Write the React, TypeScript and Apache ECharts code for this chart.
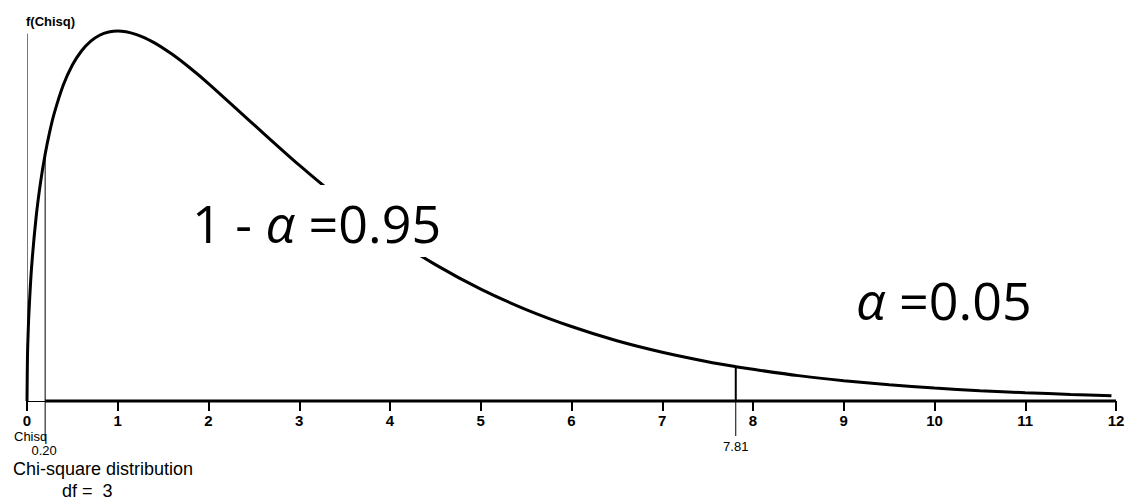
import React, { useEffect, useRef } from "react";
import * as echarts from "echarts";

// Chi-square (df = 3) density
const chiX = [0, 0.005, 0.01, 0.02, 0.05, 0.1, 0.15, 0.2, 0.25, 0.3, 0.4, 0.5, 0.6, 0.7, 0.8, 0.9, 1.0, 1.2, 1.4, 1.6, 1.8, 2.0, 2.5, 3.0, 3.5, 4.0, 4.5, 5.0, 5.5, 6.0, 6.5, 7.0, 7.5, 7.81, 8.0, 8.5, 9.0, 9.5, 10, 10.5, 11, 11.5, 11.95];
const density = [0, 0.0281, 0.0397, 0.0559, 0.087, 0.12, 0.1433, 0.1614, 0.176, 0.1881, 0.2066, 0.2197, 0.2289, 0.2352, 0.2392, 0.2413, 0.242, 0.2398, 0.2344, 0.2267, 0.2176, 0.2076, 0.1807, 0.1542, 0.1297, 0.108, 0.0892, 0.0732, 0.0598, 0.0487, 0.0394, 0.0319, 0.0257, 0.02245, 0.0207, 0.0166, 0.0133, 0.0106, 0.0085, 0.00678, 0.00541, 0.00431, 0.0035];
const xMin = 0;
const xMax = 12;
const xInterval = 1;
const lowerCut = 0.2;
const lowerCutDensity = 0.1614;
const lowerCutLabel = "0.20";
const critical = 7.81;
const criticalDensity = 0.02245;
const criticalLabel = "7.81";
const axisName = "f(Chisq)";
const xName = "Chisq";
const titleLines = ["Chi-square distribution", "df =  3"];
const confidenceLabel = ["1 - ", "\u03b1", " =0.95"];
const alphaLabel = ["\u03b1", " =0.05"];

export default function App() {
  const ref = useRef<HTMLDivElement>(null);
  useEffect(() => {
    if (!ref.current) return;
    const chart = echarts.init(ref.current, undefined, { renderer: "svg" });
    const curve = chiX.map((x, i) => [x, density[i]]);
    chart.setOption({
      animation: false,
      backgroundColor: "#ffffff",
      grid: { left: 27, right: 18, top: 34, bottom: 101, outerBoundsMode: "none" },
      xAxis: {
        type: "value",
        min: xMin,
        max: xMax,
        interval: xInterval,
        splitLine: { show: false },
        axisLine: { show: true, lineStyle: { color: "#000", width: 1 } },
        axisTick: { show: true, length: 10, lineStyle: { color: "#000", width: 2 } },
        axisLabel: {
          margin: 12,
          color: "#000",
          fontSize: 15,
          fontWeight: "bold",
          fontFamily: "Liberation Sans, Arial, sans-serif",
        },
      },
      yAxis: {
        type: "value",
        min: 0,
        max: 0.24,
        name: axisName,
        nameLocation: "end",
        nameGap: 6,
        nameTextStyle: {
          align: "left",
          color: "#000",
          fontSize: 13,
          fontWeight: "bold",
          fontFamily: "Liberation Sans, Arial, sans-serif",
          padding: [0, 0, 0, -1],
        },
        splitLine: { show: false },
        axisTick: { show: false },
        axisLabel: { show: false },
        axisLine: { show: true, lineStyle: { color: "#777", width: 1 } },
      },
      series: [
        {
          type: "line",
          data: curve,
          showSymbol: false,
          smooth: 0.3,
          clip: false,
          lineStyle: { color: "#000", width: 3 },
          z: 2,
        },
        {
          type: "line",
          data: [[lowerCut, 0], [xMax, 0]],
          showSymbol: false,
          clip: false,
          lineStyle: { color: "#000", width: 3 },
          z: 3,
        },
        {
          type: "line",
          data: [[lowerCut, 0], [lowerCut, lowerCutDensity]],
          showSymbol: false,
          clip: false,
          lineStyle: { color: "#000", width: 1 },
          z: 3,
        },
        {
          type: "line",
          data: [[critical, 0], [critical, criticalDensity]],
          showSymbol: false,
          clip: false,
          lineStyle: { color: "#000", width: 2 },
          z: 3,
        },
      ],
    });

    const p1 = chart.convertToPixel({ xAxisIndex: 0, yAxisIndex: 0 }, [lowerCut, 0]) as number[];
    const p2 = chart.convertToPixel({ xAxisIndex: 0, yAxisIndex: 0 }, [critical, 0]) as number[];
    const font = "Liberation Sans, Arial, sans-serif";
    const bigFont = "Open Sans, Lato, sans-serif";
    chart.setOption({
      graphic: [
        { type: "line", shape: { x1: p1[0], y1: p1[1], x2: p1[0], y2: p1[1] + 40 }, style: { stroke: "#000", lineWidth: 1 }, z: 10 },
        { type: "line", shape: { x1: p2[0], y1: p2[1], x2: p2[0], y2: p2[1] + 35 }, style: { stroke: "#000", lineWidth: 1 }, z: 10 },
        { type: "text", x: p1[0] - 1, y: p1[1] + 49, style: { text: lowerCutLabel, font: `13px ${font}`, fill: "#000", align: "center", verticalAlign: "middle" }, z: 10 },
        { type: "text", x: p2[0], y: p2[1] + 45, style: { text: criticalLabel, font: `13px ${font}`, fill: "#000", align: "center", verticalAlign: "middle" }, z: 10 },
        { type: "text", x: 14, y: 436, style: { text: xName, font: `13px ${font}`, fill: "#000", align: "left", verticalAlign: "middle" }, z: 10 },
        { type: "text", x: 13, y: 469, style: { text: titleLines[0], font: `18px ${font}`, fill: "#000", align: "left", verticalAlign: "middle" }, z: 10 },
        { type: "text", x: 62, y: 491, style: { text: titleLines[1], font: `18px ${font}`, fill: "#000", align: "left", verticalAlign: "middle" }, z: 10 },
        { type: "rect", shape: { x: 186, y: 185, width: 262, height: 72 }, style: { fill: "#fff" }, z: 20 },
        {
          type: "text",
          x: 192,
          y: 222,
          z: 21,
          style: {
            text: `{n|${confidenceLabel[0]}}{i|${confidenceLabel[1]}}{n|${confidenceLabel[2]}}`,
            verticalAlign: "middle",
            align: "left",
            rich: {
              n: { fontSize: 52, fontFamily: bigFont, fill: "#000" },
              i: { fontSize: 52, fontFamily: bigFont, fontStyle: "italic", fill: "#000" },
            },
          },
        },
        {
          type: "text",
          x: 856,
          y: 299,
          z: 21,
          style: {
            text: `{i|${alphaLabel[0]}}{n|${alphaLabel[1]}}`,
            verticalAlign: "middle",
            align: "left",
            rich: {
              n: { fontSize: 52, fontFamily: bigFont, fill: "#000" },
              i: { fontSize: 52, fontFamily: bigFont, fontStyle: "italic", fill: "#000" },
            },
          },
        },
      ],
    });
    return () => chart.dispose();
  }, []);
  return (
    <div
      ref={ref}
      style={{ position: "absolute", left: 0, top: 0, width: 1134, height: 502, background: "#fff" }}
    />
  );
}
